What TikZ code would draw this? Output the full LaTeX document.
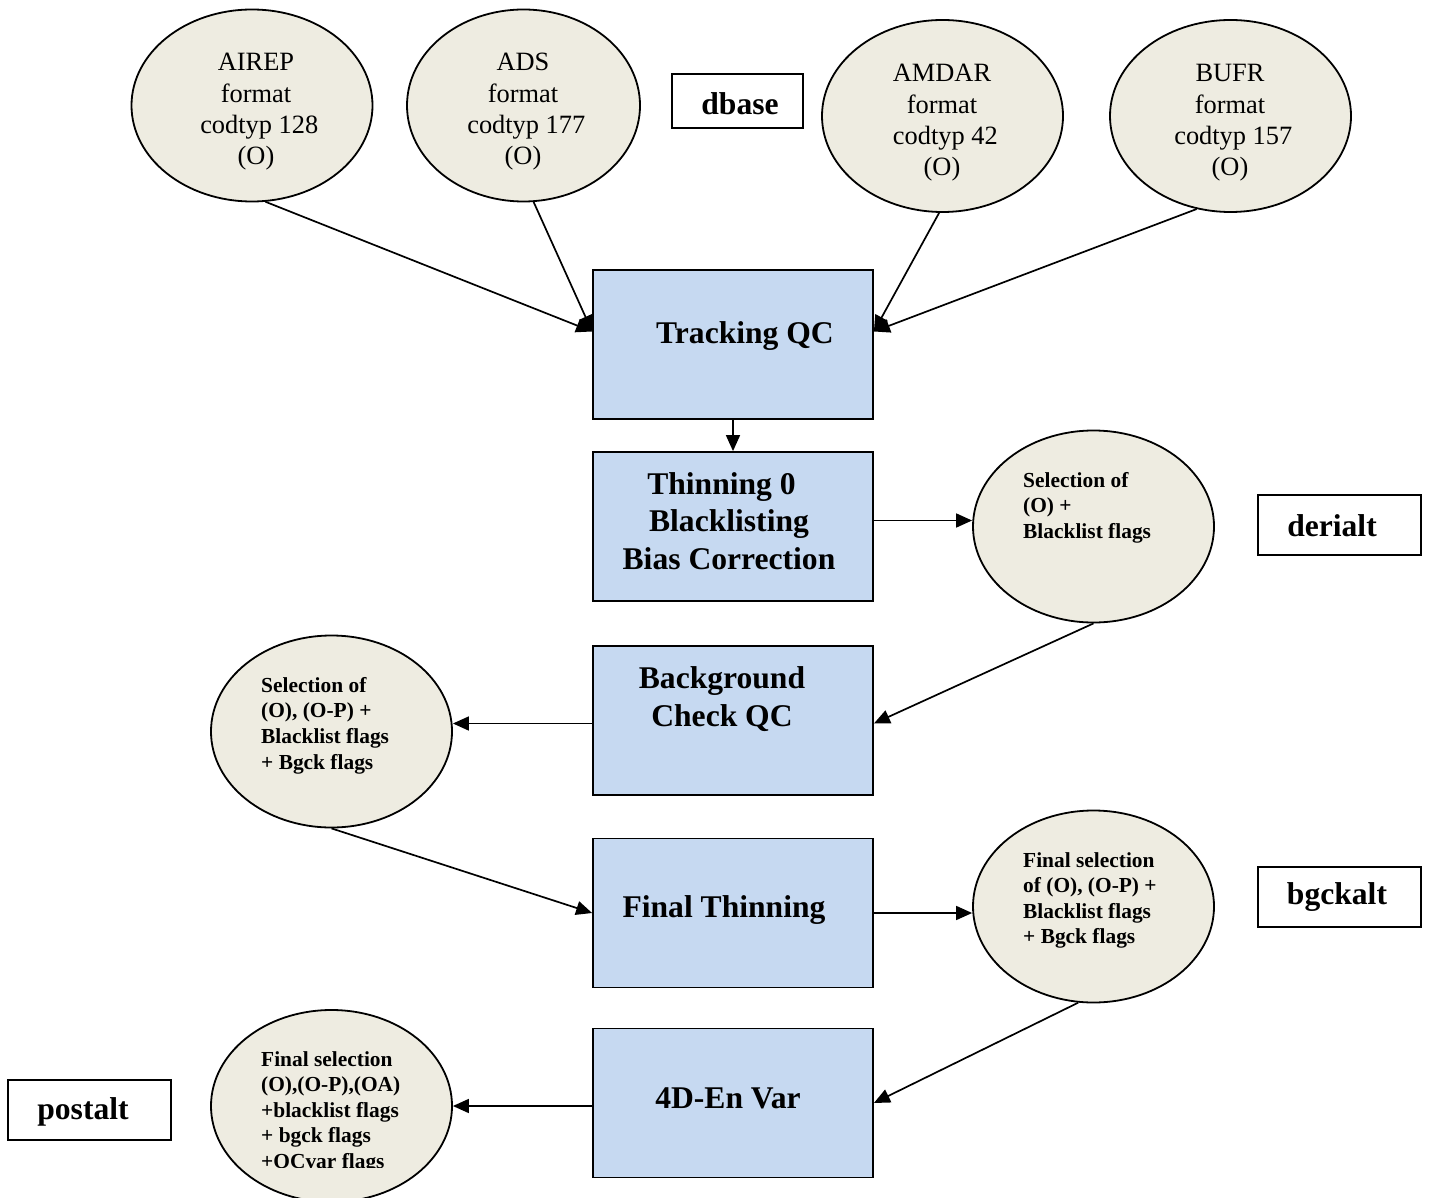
\documentclass[tikz,border=0pt]{standalone}
\usepackage{fontspec}
\setmainfont{Liberation Serif}
\usetikzlibrary{arrows.meta,shapes.geometric}
\definecolor{boxblue}{HTML}{C6D9F1}
\definecolor{ellfill}{HTML}{EEECE1}
\begin{document}
\begin{tikzpicture}[x=1pt,y=-1pt,
  procbox/.style={draw=black,line width=1.8pt,fill=boxblue,minimum width=280pt,minimum height=149pt,inner sep=0pt},
  dataell/.style={draw=black,line width=1.8pt,fill=ellfill,ellipse,minimum width=241pt,minimum height=192pt,inner sep=0pt},
  tagbox/.style={draw=black,line width=1.8pt,fill=white,inner sep=0pt,font=\fontsize{31.6}{36}\selectfont\bfseries},
  boxtext/.style={align=center,inner sep=0pt,font=\fontsize{31.6}{37.5}\selectfont\bfseries},
  topetext/.style={align=center,inner sep=0pt,font=\fontsize{26.4}{31.3}\selectfont},
  smalltext/.style={align=left,anchor=north west,inner sep=0pt,font=\fontsize{21.4}{25.6}\selectfont\bfseries},
  conn/.style={line width=1.7pt,-{Triangle[length=16pt,width=14pt]}}]
\useasboundingbox (0,0) rectangle (1432,1198);

% top source ellipses
\node[dataell] (airep) at (252,105.5) {};
\node[dataell,minimum width=233pt] (ads) at (523.5,105.5) {};
\node[dataell] (amdar) at (942.5,116) {};
\node[dataell] (bufr) at (1230.5,116) {};
\node[topetext] (airept) at (256,112) {AIREP\\format\\ \ codtyp 128\\(O)};
\node[topetext] (adst) at (523,112) {ADS\\format\\ \ codtyp 177\\(O)};
\node[topetext] (amdart) at (942,123) {AMDAR\\format\\ \ codtyp 42\\(O)};
\node[topetext] (bufrt) at (1230,123) {BUFR\\format\\ \ codtyp 157\\(O)};

% tag boxes
\node[tagbox,minimum width=131pt,minimum height=54pt] (dbase) at (737.5,101) {};
\node[tagbox,minimum width=163pt,minimum height=60pt] (derialt) at (1339.5,525) {};
\node[tagbox,minimum width=163pt,minimum height=60pt] (bgckalt) at (1339.5,897) {};
\node[tagbox,minimum width=163pt,minimum height=60pt] (postalt) at (89.5,1110) {};
\node[tagbox,draw=none,fill=none] (dbaset) at (740,104) {dbase};
\node[tagbox,draw=none,fill=none] (derialtt) at (1332,526) {derialt};
\node[tagbox,draw=none,fill=none] (bgckaltt) at (1337,897) {bgckalt};
\node[tagbox,draw=none,fill=none] (postaltt) at (83,1112) {postalt};

% process boxes
\node[procbox] (tqc) at (733,344.5) {};
\node[procbox] (thin) at (733,526.5) {};
\node[procbox] (bg) at (733,720.5) {};
\node[procbox] (ft) at (733,913) {};
\node[procbox] (var) at (733,1103) {};
\node[boxtext] (tqct) at (745,336) {Tracking QC};
\node[boxtext] (thint) at (729,521) {Thinning 0\hspace*{15pt}\\Blacklisting\hspace*{6pt}\\Bias Correction};
\node[boxtext] (bgt) at (722,699) {Background\\Check QC};
\node[boxtext] (ftt) at (724,910) {Final Thinning};
\node[boxtext] (vart) at (728,1098) {4D-En Var};

% selection ellipses
\node[dataell] (sel1) at (1093.5,526.5) {};
\node[dataell] (sel2) at (331.5,731.5) {};
\node[dataell] (sel3) at (1093.5,906.5) {};
\node[dataell] (sel4) at (331.5,1106) {};
\node[smalltext] (sel1t) at (1023,472) {Selection of\\(O) +\\Blacklist flags};
\node[smalltext] (sel2t) at (261,677) {Selection of\\(O), (O-P) +\\Blacklist flags\\+ Bgck flags};
\node[smalltext] (sel3t) at (1023,852) {Final selection\\of (O), (O-P) +\\Blacklist flags\\+ Bgck flags};
\begin{scope}
\clip (200,1000) rectangle (470,1167);
\node[smalltext] (sel4t) at (261,1051) {Final selection\\(O),(O-P),(OA)\\+blacklist flags\\+ bgck flags\\+OCvar flags};
\end{scope}

% connectors
\draw[conn] (airep.278) -- ([yshift=13pt]tqc.west);
\draw[conn] (ads.276) -- ([yshift=13pt]tqc.west);
\draw[conn] (amdar.268) -- ([yshift=13pt]tqc.east);
\draw[conn] (bufr.250) -- ([yshift=13pt]tqc.east);
\draw[conn] (tqc.south) -- (thin.north);
\draw[conn] ([yshift=6pt]thin.east) -- ([yshift=6pt]thin.east -| sel1.west);
\draw[conn] (sel1.south) -- ([yshift=-3pt]bg.east);
\draw[conn] ([yshift=-3pt]bg.west) -- ([yshift=-3pt]bg.west -| sel2.east);
\draw[conn] (sel2.south) -- (ft.west);
\draw[conn] (ft.east) -- (ft.east -| sel3.west);
\draw[conn] (sel3.261) -- (var.east);
\draw[conn] ([yshift=-3pt]var.west) -- ([yshift=-3pt]var.west -| sel4.east);
\end{tikzpicture}
\end{document}
